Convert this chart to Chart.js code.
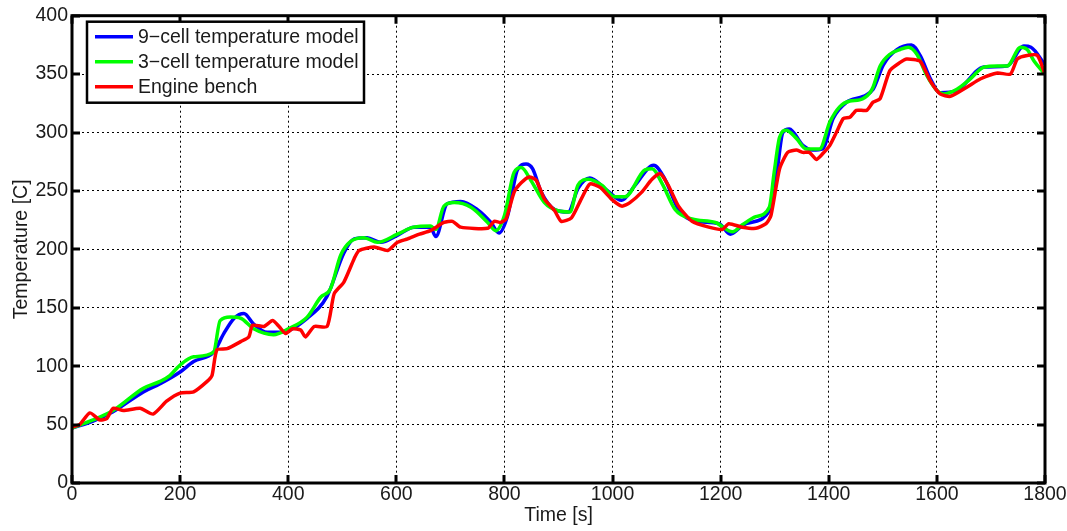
<!DOCTYPE html>
<html>
<head>
<meta charset="utf-8">
<script src="https://cdn.jsdelivr.net/npm/chart.js@4.4.1/dist/chart.umd.min.js"></script>
<style>
  html, body { margin: 0; padding: 0; background: #ffffff; }
  #wrap { width: 1067px; height: 531px; }
</style>
</head>
<body>
<div id="wrap"><canvas id="c" width="1067" height="531"></canvas></div>
<script>
// ---- Data ----
const seriesLabels = ['9\u2212cell temperature model', '3\u2212cell temperature model', 'Engine bench'];
const seriesColors = ['#0000ff', '#00ff00', '#ff0000'];

const xTicks = [0, 200, 400, 600, 800, 1000, 1200, 1400, 1600, 1800];
const yTicks = [0, 50, 100, 150, 200, 250, 300, 350, 400];

const time9 = [0, 39, 76, 132, 163, 200, 225, 262, 281, 300, 318, 336, 361, 386, 435, 472, 503, 522, 546, 571, 602, 633, 663, 673, 694, 719, 750, 775, 790, 806, 824, 840, 852, 868, 893, 918, 936, 958, 986, 1017, 1042, 1076, 1097, 1122, 1153, 1197, 1218, 1237, 1247, 1290, 1304, 1315, 1327, 1352, 1370, 1389, 1408, 1433, 1464, 1482, 1501, 1526, 1553, 1569, 1588, 1606, 1637, 1687, 1730, 1761, 1774, 1800];
const temp9 = [47, 53, 61, 78, 85, 95, 104, 112, 128, 141, 145, 136, 129, 129, 141, 160, 197, 209, 210, 206, 212, 219, 219, 211, 239, 241, 234, 223, 214, 229, 268, 273, 269, 249, 234, 232, 252, 261, 252, 242, 255, 272, 260, 234, 224, 222, 213, 219, 222, 233, 266, 300, 303, 289, 285, 286, 312, 326, 331, 337, 358, 371, 375, 366, 346, 334, 336, 356, 357, 374, 373, 358];

const time3 = [0, 39, 76, 132, 163, 181, 200, 225, 262, 274, 293, 312, 336, 373, 400, 435, 460, 478, 497, 516, 540, 565, 602, 632, 663, 673, 688, 707, 738, 769, 784, 800, 818, 831, 849, 874, 899, 921, 936, 955, 980, 1004, 1023, 1060, 1073, 1091, 1116, 1147, 1190, 1222, 1240, 1265, 1290, 1299, 1309, 1321, 1340, 1358, 1383, 1402, 1420, 1439, 1457, 1476, 1482, 1495, 1513, 1532, 1547, 1563, 1581, 1600, 1612, 1637, 1662, 1687, 1712, 1730, 1755, 1767, 1780, 1800];
const temp3 = [47, 54, 62, 81, 87, 92, 101, 108, 112, 139, 142, 141, 132, 127, 132, 142, 159, 166, 195, 207, 210, 206, 213, 219, 220, 217, 237, 240, 236, 223, 216, 229, 266, 270, 259, 240, 233, 232, 255, 260, 255, 245, 245, 268, 269, 257, 234, 226, 223, 215, 221, 228, 236, 266, 296, 302, 295, 286, 286, 309, 322, 327, 328, 334, 339, 357, 367, 371, 373, 367, 349, 336, 333, 337, 346, 356, 357, 357, 373, 371, 361, 350];

const timeBench = [0, 14, 33, 51, 64, 76, 95, 126, 150, 175, 200, 225, 250, 259, 268, 287, 312, 327, 334, 355, 371, 383, 395, 408, 423, 432, 448, 472, 485, 503, 522, 531, 559, 584, 602, 621, 643, 663, 688, 704, 719, 769, 781, 793, 803, 818, 831, 846, 859, 874, 893, 905, 924, 942, 958, 977, 998, 1017, 1032, 1054, 1073, 1088, 1104, 1122, 1147, 1178, 1203, 1215, 1240, 1265, 1284, 1293, 1309, 1324, 1340, 1352, 1364, 1377, 1389, 1402, 1414, 1427, 1439, 1451, 1470, 1482, 1495, 1513, 1532, 1544, 1569, 1588, 1606, 1625, 1656, 1681, 1712, 1736, 1749, 1767, 1786, 1800];
const tempBench = [48, 50, 60, 54, 55, 64, 62, 64, 59, 70, 77, 78, 87, 92, 114, 115, 121, 125, 135, 134, 139, 134, 128, 132, 131, 125, 134, 134, 162, 172, 192, 199, 202, 199, 206, 209, 213, 216, 223, 224, 219, 218, 224, 223, 226, 249, 257, 262, 259, 243, 233, 224, 227, 243, 256, 253, 243, 237, 240, 249, 260, 265, 254, 237, 224, 219, 217, 222, 219, 218, 222, 229, 269, 283, 285, 283, 283, 277, 282, 289, 300, 312, 313, 319, 319, 326, 329, 353, 360, 363, 361, 344, 333, 331, 339, 346, 351, 350, 363, 366, 366, 350];

function pts(xs, ys) { return xs.map((x, i) => ({ x: x, y: ys[i] })); }

const FONT = '"Liberation Sans", Arial, sans-serif';
const FS = 19.5;
const TXT = '#1a1a1a';

// Box, inward ticks and legend (positions from the library's scales)
const framePlugin = {
  id: 'frame',
  afterDraw(chart) {
    const { ctx, chartArea: a, scales } = chart;
    const xs = scales.x, ys = scales.y;
    ctx.save();
    ctx.strokeStyle = '#000';
    ctx.lineWidth = 3;
    ctx.setLineDash([]);
    const tl = 8;
    ctx.beginPath();
    xTicks.forEach(v => {
      const px = Math.round(xs.getPixelForValue(v));
      ctx.moveTo(px, a.bottom); ctx.lineTo(px, a.bottom - tl);
      ctx.moveTo(px, a.top); ctx.lineTo(px, a.top + tl);
    });
    yTicks.forEach(v => {
      const py = Math.round(ys.getPixelForValue(v));
      ctx.moveTo(a.left, py); ctx.lineTo(a.left + tl, py);
      ctx.moveTo(a.right, py); ctx.lineTo(a.right - tl, py);
    });
    ctx.stroke();
    ctx.strokeRect(a.left, a.top, a.right - a.left, a.bottom - a.top);

    // legend
    const lx = a.left + 15, ly = a.top + 6, lw = 277, lh = 81;
    ctx.fillStyle = '#fff';
    ctx.fillRect(lx, ly, lw, lh);
    ctx.lineWidth = 2.5;
    ctx.strokeRect(lx, ly, lw, lh);
    ctx.font = FS + 'px ' + FONT;
    ctx.textBaseline = 'middle';
    ctx.textAlign = 'left';
    chart.data.datasets.forEach((ds, i) => {
      const yy = ly + 15 + i * 25;
      ctx.strokeStyle = ds.borderColor;
      ctx.lineWidth = 3.5;
      ctx.beginPath();
      ctx.moveTo(lx + 8, yy); ctx.lineTo(lx + 46, yy);
      ctx.stroke();
      ctx.fillStyle = TXT;
      ctx.fillText(ds.label, lx + 51, yy + 1);
    });
    ctx.restore();
  }
};

new Chart(document.getElementById('c'), {
  type: 'line',
  data: {
    datasets: [
      { label: seriesLabels[0], data: pts(time9, temp9), borderColor: seriesColors[0], borderWidth: 3.5, pointRadius: 0, tension: 0.4, cubicInterpolationMode: 'monotone', fill: false, order: 2 },
      { label: seriesLabels[1], data: pts(time3, temp3), borderColor: seriesColors[1], borderWidth: 3.5, pointRadius: 0, tension: 0.4, cubicInterpolationMode: 'monotone', fill: false, order: 1 },
      { label: seriesLabels[2], data: pts(timeBench, tempBench), borderColor: seriesColors[2], borderWidth: 3.5, pointRadius: 0, tension: 0.2, fill: false, order: 0 }
    ]
  },
  options: {
    responsive: false,
    animation: false,
    devicePixelRatio: 1,
    layout: { padding: { top: 13, right: 22, left: 0, bottom: 0 } },
    plugins: { legend: { display: false }, tooltip: { enabled: false } },
    scales: {
      x: {
        type: 'linear', min: 0, max: 1800,
        afterFit(s) { s.height = 48; },
        afterBuildTicks(s) { s.ticks = xTicks.map(v => ({ value: v })); },
        ticks: { font: { family: FONT, size: FS }, color: TXT, padding: 0, maxRotation: 0, autoSkip: false, callback: v => String(v) },
        grid: { color: '#000', lineWidth: 1, drawTicks: false },
        border: { display: false, dash: [2, 3] },
        title: { display: true, text: 'Time [s]', font: { family: FONT, size: FS }, color: TXT, padding: { top: 0, bottom: 4 } }
      },
      y: {
        type: 'linear', min: 0, max: 400,
        afterFit(s) { s.width = 72; },
        afterBuildTicks(s) { s.ticks = yTicks.map(v => ({ value: v })); },
        ticks: { font: { family: FONT, size: FS }, color: TXT, padding: 4, autoSkip: false, callback: v => String(v) },
        grid: { color: '#000', lineWidth: 1, drawTicks: false },
        border: { display: false, dash: [2, 3] },
        title: { display: true, text: 'Temperature [C]', font: { family: FONT, size: FS }, color: TXT, padding: { top: 10, bottom: 0 } }
      }
    }
  },
  plugins: [framePlugin]
});
</script>
</body>
</html>
